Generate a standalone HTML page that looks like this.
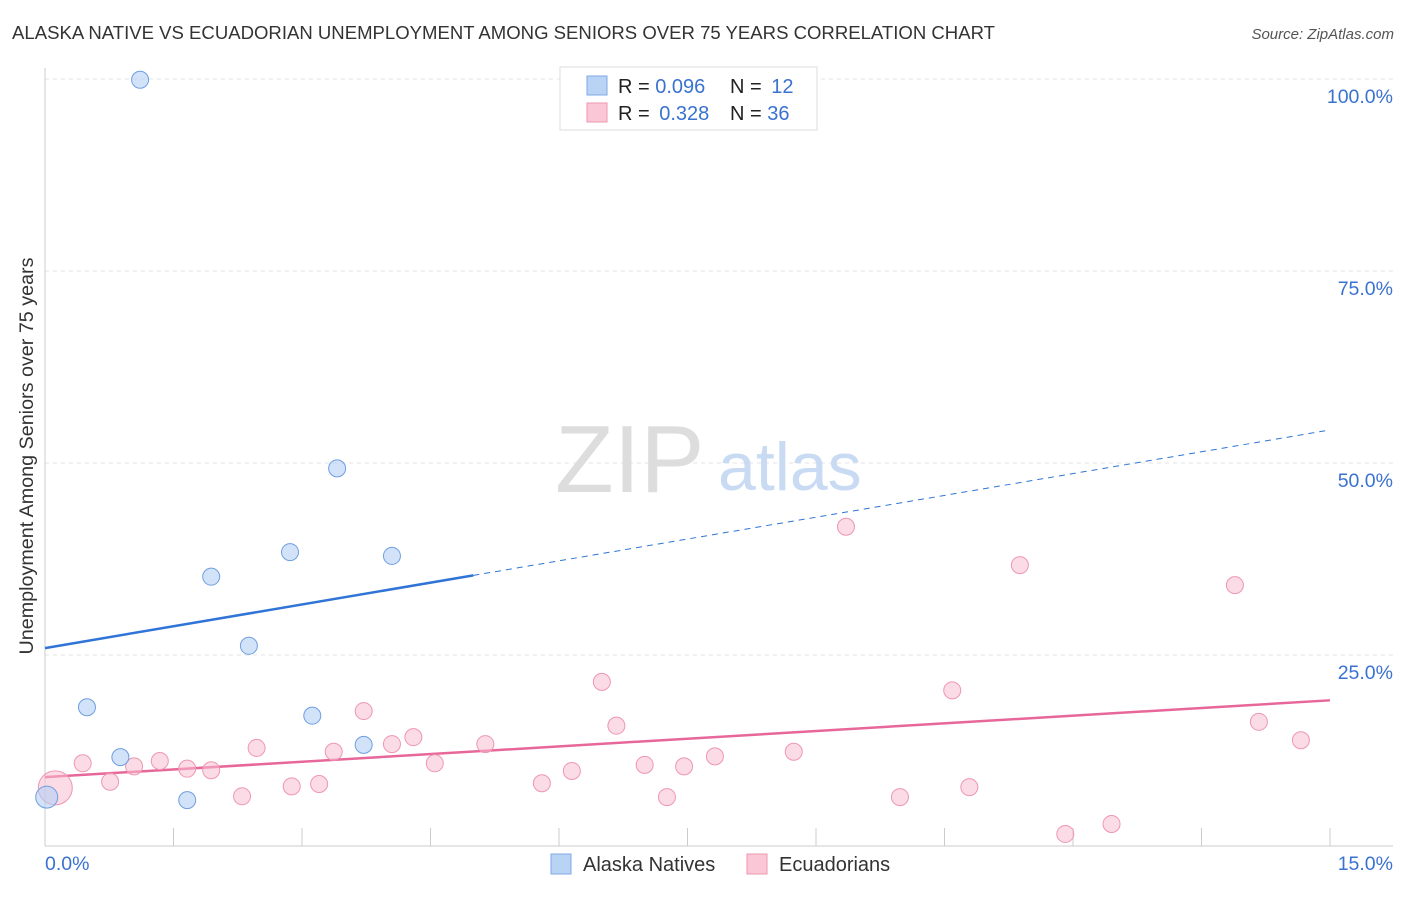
<!DOCTYPE html>
<html><head><meta charset="utf-8"><style>
body{margin:0;background:#fff;font-family:"Liberation Sans",sans-serif;}
svg text{font-family:"Liberation Sans",sans-serif;}
</style></head><body>
<svg id="chart" width="1406" height="892">
<text x="12" y="39" font-size="18.5" fill="#333" textLength="983" lengthAdjust="spacingAndGlyphs">ALASKA NATIVE VS ECUADORIAN UNEMPLOYMENT AMONG SENIORS OVER 75 YEARS CORRELATION CHART</text>
<text x="1394" y="39" font-size="15" fill="#555" font-style="italic" text-anchor="end">Source: ZipAtlas.com</text>
<text transform="translate(33,456) rotate(-90)" font-size="19" fill="#333" text-anchor="middle" textLength="397" lengthAdjust="spacingAndGlyphs">Unemployment Among Seniors over 75 years</text>
<g id="grid"></g>
<text x="555" y="492" font-size="96" fill="#ddd" font-family="Liberation Serif">ZIP</text>
<text x="718" y="490" font-size="68" fill="#c9daf3">atlas</text>
<g id="lines"></g>
<g id="pts"></g>
<g>
<rect x="560" y="67" width="257" height="63" fill="#fff" stroke="#ddd"/>
<rect x="587" y="76" width="20" height="19" fill="#b9d3f5" stroke="#7fa9e6"/>
<rect x="587" y="103" width="20" height="19" fill="#f9c7d5" stroke="#ee97b1"/>
<text x="618" y="93" font-size="20" fill="#222">R = <tspan fill="#3a72d0">0.096</tspan></text>
<text x="730" y="93" font-size="20" fill="#222">N = <tspan fill="#3a72d0" dx="4">12</tspan></text>
<text x="618" y="120" font-size="20" fill="#222">R = <tspan fill="#3a72d0" dx="4">0.328</tspan></text>
<text x="730" y="120" font-size="20" fill="#222">N = <tspan fill="#3a72d0">36</tspan></text>
</g>
<g>
<rect x="551" y="854" width="20" height="20" fill="#b9d3f5" stroke="#7fa9e6"/>
<text x="583" y="871" font-size="20" fill="#333">Alaska Natives</text>
<rect x="747" y="854" width="20" height="20" fill="#f9c7d5" stroke="#ee97b1"/>
<text x="779" y="871" font-size="20" fill="#333">Ecuadorians</text>
</g>
</svg>
<script>
const blueX=[1.11,3.41,2.86,4.05,1.94,2.38,0.49,3.12,3.72,0.88,1.66,0.02];
const blueY=[99.9,49.3,38.4,37.9,35.2,26.2,18.2,17.1,13.3,11.7,6.1,6.5];
const pinkX=[9.35,11.38,13.89,6.50,10.59,3.72,6.67,14.17,14.66,4.30,4.05,5.14,3.37,2.47,8.74,7.82,1.34,0.44,1.04,4.55,7.00,7.46,1.66,1.94,6.15,0.76,2.88,3.20,5.80,10.79,2.30,7.26,9.98,12.45,11.91,0.12];
const pinkY=[41.7,36.7,34.1,21.5,20.4,17.7,15.8,16.3,13.9,14.3,13.4,13.4,12.4,12.9,12.4,11.8,11.2,10.9,10.5,10.9,10.7,10.5,10.2,10.0,9.9,8.5,7.9,8.2,8.3,7.8,6.6,6.5,6.5,3.0,1.7,7.7];
const yTicks=[25,50,75,100];
const xTickLabels=["0.0%","15.0%"];
const blueFit=[25.9,54.3];
const pinkFit=[9.1,19.1];
const NS="http://www.w3.org/2000/svg";
const X=v=>45+v/15*1285, Y=v=>847-v/100*768;
function mk(t,a,p){const e=document.createElementNS(NS,t);for(const k in a)e.setAttribute(k,a[k]);p.appendChild(e);return e;}
const g=document.getElementById('grid');
yTicks.forEach(t=>{
 const l=mk('line',{x1:45,x2:1393,y1:Y(t),y2:Y(t),stroke:'#e3e3e3','stroke-dasharray':'4 4'},g);
 
 
 const tx=mk('text',{x:1393,y:Y(t)+24,'font-size':19.5,fill:'#3a72d0','text-anchor':'end'},g);
 tx.textContent=t.toFixed(1)+'%';
 
 
});
const ax=mk('line',{x1:45,x2:45,y1:68,y2:846,stroke:'#ccc'},g);


const bx=mk('line',{x1:45,x2:1393,y1:846,y2:846,stroke:'#ccc'},g);


for(let i=0;i<=10;i++){const t=mk('line',{x1:X(i*1.5),x2:X(i*1.5),y1:828,y2:846,stroke:'#ccc'},g);
 
 }
[[0,'start',45],[15,'end',1393]].forEach((d,i)=>{const t=mk('text',{x:d[2],y:870,'font-size':19.5,fill:'#3a72d0','text-anchor':d[1]},g);t.textContent=xTickLabels[i];
 
 });
const L=document.getElementById('lines');
const bm=blueFit[0]+(blueFit[1]-blueFit[0])*(5/15);
const b1=mk('line',{x1:X(0),y1:Y(blueFit[0]),x2:X(5),y2:Y(bm),stroke:'#2f74d6','stroke-width':2.5},L);


const b2=mk('line',{x1:X(5),y1:Y(bm),x2:X(15),y2:Y(blueFit[1]),stroke:'#2f74d6','stroke-width':1,'stroke-dasharray':'6 5'},L);


const p1=mk('line',{x1:X(0),y1:Y(pinkFit[0]),x2:X(15),y2:Y(pinkFit[1]),stroke:'#e8679a','stroke-width':2.5},L);


const P=document.getElementById('pts');
pinkX.forEach((x,i)=>{const c=mk('circle',{cx:X(x),cy:Y(pinkY[i]),r:i==35?17:8.5,fill:'rgba(248,190,208,0.55)',stroke:'#ee97b1','stroke-width':1},P);
 
 });
blueX.forEach((x,i)=>{const c=mk('circle',{cx:X(x),cy:Y(blueY[i]),r:i==11?11:8.5,fill:'rgba(180,206,243,0.6)',stroke:'#6f9fe0','stroke-width':1},P);
 
 });
</script>
</body></html>
